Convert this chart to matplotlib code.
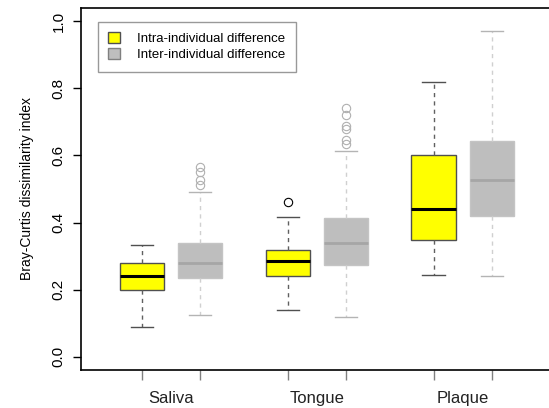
import matplotlib
matplotlib.use("Agg")
import matplotlib.pyplot as plt
from matplotlib.patches import Patch

plt.rcParams["font.family"] = ["Liberation Sans", "DejaVu Sans"]

# summary values
sites = ["Saliva", "Tongue", "Plaque"]
groups = ["Intra-individual difference", "Inter-individual difference"]

intra_low = [0.089, 0.140, 0.245]
intra_q1 = [0.200, 0.242, 0.348]
intra_med = [0.241, 0.287, 0.440]
intra_q3 = [0.280, 0.318, 0.601]
intra_high = [0.333, 0.417, 0.818]
intra_out = [[], [0.461], []]

inter_low = [0.125, 0.120, 0.240]
inter_q1 = [0.235, 0.275, 0.420]
inter_med = [0.280, 0.340, 0.526]
inter_q3 = [0.339, 0.415, 0.643]
inter_high = [0.492, 0.613, 0.971]
inter_out = [[0.512, 0.527, 0.551, 0.565],
             [0.634, 0.646, 0.679, 0.688, 0.720, 0.741], []]

pos_intra = [1, 3.5, 6]
pos_inter = [2, 4.5, 7]


def stats(low, q1, med, q3, high, out):
    res = []
    for i in range(len(low)):
        res.append(dict(whislo=low[i], q1=q1[i], med=med[i], q3=q3[i],
                        whishi=high[i], fliers=out[i]))
    return res


fig = plt.figure(figsize=(5.49, 4.08), dpi=100)
ax = fig.add_axes([81 / 549, 38 / 408, 1 - 81 / 549, 362 / 408])

ax.bxp(stats(intra_low, intra_q1, intra_med, intra_q3, intra_high, intra_out),
       positions=pos_intra, widths=0.76, patch_artist=True,
       boxprops=dict(facecolor="#ffff00", edgecolor="#505050", linewidth=1),
       medianprops=dict(color="black", linewidth=2.2),
       whiskerprops=dict(color="#606060", linestyle=(0, (3, 3)), linewidth=1),
       capprops=dict(color="#505050", linewidth=1),
       flierprops=dict(marker="o", markerfacecolor="none",
                       markeredgecolor="black", markersize=6, markeredgewidth=0.8))

ax.bxp(stats(inter_low, inter_q1, inter_med, inter_q3, inter_high, inter_out),
       positions=pos_inter, widths=0.76, patch_artist=True,
       boxprops=dict(facecolor="#bebebe", edgecolor="#c4c4c4", linewidth=1),
       medianprops=dict(color="#a6a6a6", linewidth=2),
       whiskerprops=dict(color="#d0d0d0", linestyle=(0, (3, 3)), linewidth=1),
       capprops=dict(color="#b4b4b4", linewidth=1),
       flierprops=dict(marker="o", markerfacecolor="none",
                       markeredgecolor="#b0b0b0", markersize=6, markeredgewidth=0.8))

ax.set_xlim(-0.045, 7.98)
ax.set_ylim(-0.039, 1.039)

ticks_x = sorted(pos_intra + pos_inter)
ax.set_xticks(ticks_x)
ax.set_xticklabels([])
ax.tick_params(axis="x", length=7, color="#808080", width=1)
for i, s in enumerate(sites):
    ax.text((pos_intra[i] + pos_inter[i]) / 2, -0.125, s, ha="center", va="center",
            fontsize=12, color="#222222")

ax.set_yticks([0.0, 0.2, 0.4, 0.6, 0.8, 1.0])
ax.set_yticklabels(["0.0", "0.2", "0.4", "0.6", "0.8", "1.0"], rotation=90,
                   va="center", fontsize=11)
ax.tick_params(axis="y", length=6, width=1, pad=5)
ax.set_ylabel("Bray-Curtis dissimilarity index", fontsize=10, labelpad=13)

ax.spines["right"].set_visible(False)
for s in ["top", "left", "bottom"]:
    ax.spines[s].set_linewidth(1.2)

handles = [Patch(facecolor="#ffff00", edgecolor="#505050"),
           Patch(facecolor="#bebebe", edgecolor="#808080")]
leg = ax.legend(handles, groups, loc="upper left", bbox_to_anchor=(0.036, 0.962),
                borderaxespad=0, fontsize=9.5, frameon=True, fancybox=False,
                handlelength=0.9, handleheight=0.9, borderpad=0.8,
                labelspacing=0.2, handletextpad=1.3)
leg.get_frame().set_edgecolor("#808080")
leg.get_frame().set_linewidth(1)

fig.savefig("out.png", dpi=100)
